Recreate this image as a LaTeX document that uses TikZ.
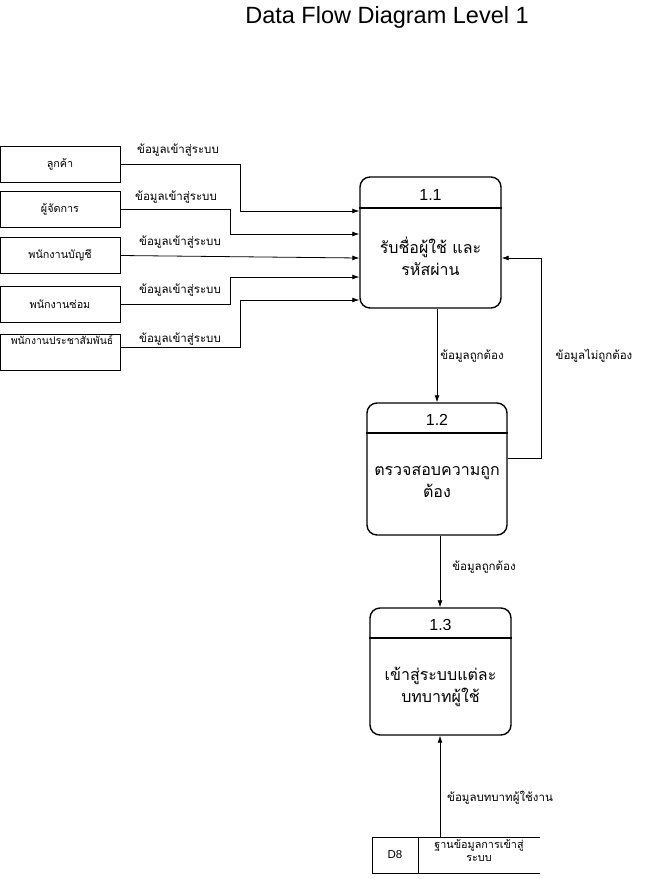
\documentclass[tikz,border=0pt]{standalone}
\usepackage{fontspec}
\setmainfont{Liberation Sans}
\newfontfamily\thai[Script=Thai]{Loma}
\usetikzlibrary{arrows.meta}
\begin{document}
\begin{tikzpicture}[x=1pt,y=-1pt,
  entity/.style={draw,line width=0.8pt,minimum width=120pt,minimum height=36pt,inner sep=0pt,font=\thai\fontsize{10.8}{12}\selectfont},
  proc/.style={draw,line width=1.4pt,rounded corners=10pt,inner sep=0pt},
  flow/.style={line width=0.8pt,-{Latex[length=7pt,width=5pt]}},
  lbl/.style={font=\thai\fontsize{11.5}{13}\selectfont,inner sep=0pt},
  ptxt/.style={font=\thai\fontsize{16}{22}\selectfont,align=center,inner sep=0pt},
  phead/.style={font=\fontsize{16}{19}\selectfont,inner sep=0pt}]
\useasboundingbox (0,0) rectangle (646,879);

% title
\node[font=\fontsize{23.5}{28}\selectfont] (title) at (387,17) {Data Flow Diagram Level 1};

% external entities
\node[entity] (e1) at (60,164.5) {ลูกค้า};
\node[entity] (e2) at (60,209) {ผู้จัดการ};
\node[entity] (e3) at (60,255.5) {พนักงานบัญชี};
\node[entity] (e4) at (60,304) {พนักงานซ่อม};
\node[entity] (e5) at (60,352) {};
\node[font=\thai\fontsize{10.4}{12}\selectfont,inner sep=0pt] (e5t) at (62,340) {พนักงานประชาสัมพันธ์};

% processes
\node[proc,minimum width=141pt,minimum height=131pt] (p1) at (430.5,242.5) {};
\draw[line width=1.4pt] (p1.west |- 0,208) -- (p1.east |- 0,208);
\node[phead] (h1) at (430.5,195) {1.1};
\node[ptxt] (t1) at (430.5,256) {รับชื่อผู้ใช้ และ\\รหัสผ่าน};

\node[proc,minimum width=140pt,minimum height=132pt] (p2) at (437,469) {};
\draw[line width=1.4pt] (p2.west |- 0,433) -- (p2.east |- 0,433);
\node[phead] (h2) at (437,420) {1.2};
\node[ptxt] (t2) at (437,482) {ตรวจสอบความถูก\\ต้อง};

\node[proc,minimum width=141pt,minimum height=127pt] (p3) at (440.5,671.5) {};
\draw[line width=1.4pt] (p3.west |- 0,638) -- (p3.east |- 0,638);
\node[phead] (h3) at (440.5,625) {1.3};
\node[ptxt] (t3) at (440.5,687) {เข้าสู่ระบบแต่ละ\\บทบาทผู้ใช้};

% data store D8
\draw[line width=0.8pt] (540,837) -- (372,837) -- (372,873) -- (540,873);
\draw[line width=0.8pt] (418,837) -- (418,873);
\node[font=\fontsize{11.5}{13}\selectfont] (d8) at (395,855) {D8};
\node[font=\thai\fontsize{10.8}{13}\selectfont,align=center,inner sep=0pt] (d8t) at (479,851) {ฐานข้อมูลการเข้าสู่\\ระบบ};
\coordinate (d8top) at (440,837);

% entity inputs to 1.1
\draw[flow] (e1.east) -| (240,211) -- (p1.west |- 0,211);
\draw[flow] (e2.east) -| (230,234) -- (p1.west |- 0,234);
\draw[flow] (e3.east) -- (p1.west |- 0,258);
\draw[flow] (e4.east) -| (230,277) -- (p1.west |- 0,277);
\draw[flow] (e5.east |- 0,347) -| (240,300) -- (p1.west |- 0,300);

\node[lbl] (l1) at (178,150) {ข้อมูลเข้าสู่ระบบ};
\node[lbl] (l2) at (176,197) {ข้อมูลเข้าสู่ระบบ};
\node[lbl] (l3) at (180,242) {ข้อมูลเข้าสู่ระบบ};
\node[lbl] (l4) at (180,290) {ข้อมูลเข้าสู่ระบบ};
\node[lbl] (l5) at (180,339) {ข้อมูลเข้าสู่ระบบ};

% process flows
\draw[flow] (p1.south -| 437,0) -- (p2.north -| 437,0);
\node[lbl] (l6) at (472,356) {ข้อมูลถูกต้อง};
\draw[flow] (p2.east |- 0,458) -- (541,458) -- (541,258) -- (p1.east |- 0,258);
\node[lbl] (l7) at (594,356) {ข้อมูลไม่ถูกต้อง};
\draw[flow] (p2.south -| 440,0) -- (p3.north -| 440,0);
\node[lbl] (l8) at (484,567) {ข้อมูลถูกต้อง};
\draw[flow] (d8top) -- (p3.south -| 440,0);
\node[lbl] (l9) at (500,798) {ข้อมูลบทบาทผู้ใช้งาน};
\end{tikzpicture}
\end{document}
